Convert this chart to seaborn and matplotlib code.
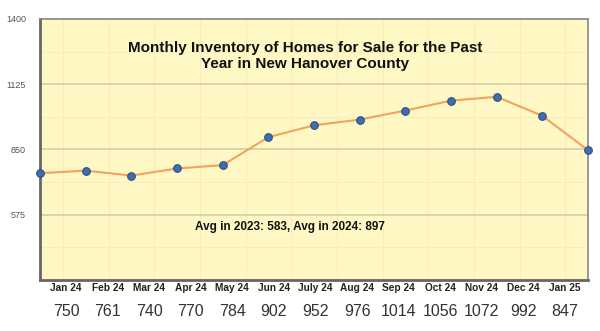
import matplotlib
matplotlib.use("Agg")
import matplotlib.pyplot as plt
import seaborn as sns
import pandas as pd
import numpy as np

months = ["Jan 24", "Feb 24", "Mar 24", "Apr 24", "May 24", "Jun 24", "July 24",
          "Aug 24", "Sep 24", "Oct 24", "Nov 24", "Dec 24", "Jan 25"]
inventory = [750, 761, 740, 770, 784, 902, 952, 976, 1014, 1056, 1072, 992, 847]
y_ticks = [575, 850, 1125, 1400]
title = "Monthly Inventory of Homes for Sale for the Past\nYear in New Hanover County"
note = "Avg in 2023: 583, Avg in 2024: 897"

df = pd.DataFrame({"idx": np.arange(len(months)), "month": months, "value": inventory})

sns.set_theme(style="white")
plt.rcParams["font.family"] = ["Liberation Sans", "DejaVu Sans"]

fig = plt.figure(figsize=(6, 3.31), dpi=100)
ax = fig.add_axes([40/600, 1-280/331, 548/600, 261/331])
ax.set_facecolor("#FFF8C4")

sns.lineplot(data=df, x="idx", y="value", ax=ax, color="#F2A35E", lw=1.5,
             marker="o", markersize=5.5, markerfacecolor="#3F6EAD",
             markeredgecolor="#2C4F85", markeredgewidth=0.8, clip_on=False, zorder=5)

ax.set_xlim(0, 12)
ax.set_ylim(300, 1400)
ax.set_yticks(y_ticks)
ax.set_yticklabels([str(v) for v in y_ticks], fontsize=6.5, color="#555555")
ax.tick_params(axis="y", length=0, pad=10)
ax.set_xticks([])
ax.set_xlabel("")
ax.set_ylabel("")
ax.yaxis.grid(True, color="#D5CFA8", lw=1.2)
ax.set_axisbelow(True)
for y in np.arange(300, 1400, 275/2):
    ax.axhline(y, color="#F3EDBE", lw=0.6, zorder=0)
for x in np.arange(0.5, 12, 1):
    ax.axvline(x, color="#F3EDBE", lw=0.6, zorder=0)

for s in ["top", "right"]:
    ax.spines[s].set_color("#888888")
    ax.spines[s].set_linewidth(1.2)
ax.spines["left"].set_color("#666666")
ax.spines["left"].set_linewidth(2)
ax.spines["bottom"].set_color("#666666")
ax.spines["bottom"].set_linewidth(2)

fig.text(305/600, 1-56/331, title, ha="center", va="center", fontsize=11,
         fontweight="bold", color="#111111", linespacing=1.15)
fig.text(290/600, 1-227/331, note, ha="center", va="center", fontsize=8.5,
         fontweight="bold", color="#111111")

x0, x1 = 66, 565
for i, (m, v) in enumerate(zip(months, inventory)):
    xp = (x0 + i * (x1 - x0) / 12) / 600
    fig.text(xp, 1-288/331, m, ha="center", va="center", fontsize=7.3,
             fontweight="bold", color="#222222")
    fig.text(xp, 1-312/331, str(v), ha="center", va="center", fontsize=11.5,
             color="#333333")

fig.savefig("out.png", dpi=100, facecolor="white")
